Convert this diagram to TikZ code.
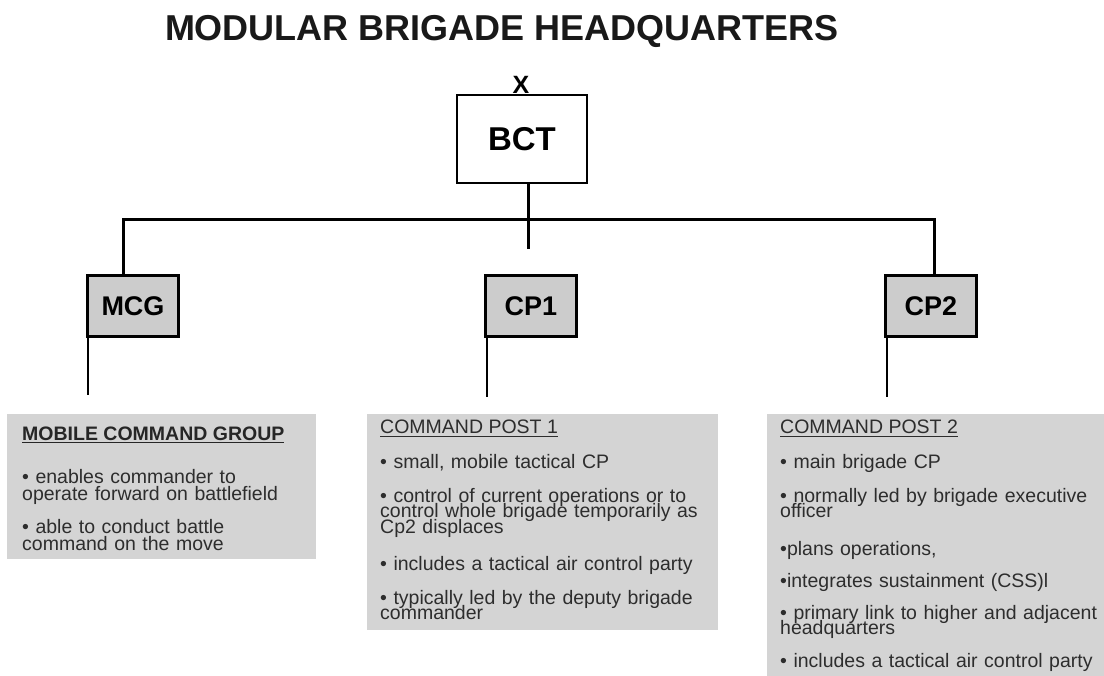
\documentclass[tikz,border=0pt]{standalone}
\usepackage{fontspec}
\setmainfont{Liberation Sans}
\definecolor{panelgray}{RGB}{212,212,212}
\definecolor{flaggray}{RGB}{204,204,204}
\definecolor{txtgray}{RGB}{45,45,45}
\newcommand\myul[1]{\setbox0=\hbox{#1}\rlap{\rule[-3.2pt]{\wd0}{1.4pt}}\box0}
\newcommand\tightlines{\lineskiplimit=-30pt\relax\lineskip=0pt\relax}
\begin{document}
\begin{tikzpicture}[x=1pt,y=-1pt,
  conn/.style={line width=3pt, line join=miter},
  pole/.style={line width=2.6pt},
  flagbox/.style={draw=black, line width=2.4pt, fill=flaggray, minimum width=91pt, minimum height=61pt, inner sep=0pt, font=\fontsize{27}{27}\selectfont\bfseries},
  topbox/.style={draw=black, line width=2.4pt, fill=white, minimum width=130pt, minimum height=88pt, inner sep=0pt, font=\fontsize{33}{33}\selectfont\bfseries},
  panel/.style={fill=panelgray, draw=none, anchor=north west, inner sep=0pt},
  head/.style={anchor=base west, inner sep=0pt, text=txtgray, font=\fontsize{19.5}{19.5}\selectfont},
  item/.style={anchor=base west, inner sep=0pt, text width=#1, align=left, text=txtgray, execute at begin node=\tightlines},
  item/.default=330pt,
  fsA/.style={font=\fontsize{19.5}{17.5}\selectfont},
  fsB/.style={font=\fontsize{19.5}{15.5}\selectfont},
  fsC/.style={font=\fontsize{19.5}{15}\selectfont}
]
\useasboundingbox (0,0) rectangle (1104,676);
\fill[white] (0,0) rectangle (1104,676);

% title
\node[anchor=base, inner sep=0pt, font=\fontsize{36}{36}\selectfont\bfseries, text=black!90] (title) at (502,41) {MODULAR BRIGADE HEADQUARTERS};

% top box
\node[topbox] (bct) at (522,139) {BCT};
\node[anchor=base, inner sep=0pt, font=\fontsize{25}{25}\selectfont\bfseries] (x) at (521,94) {X};

% flag boxes
\node[flagbox] (mcg) at (133,306) {MCG};
\node[flagbox] (cp1) at (531,306) {CP1};
\node[flagbox] (cp2) at (931,306) {CP2};

% connectors
\coordinate (jl) at (123,220);
\coordinate (jr) at (934,220);
\coordinate (jb) at (528,249);
\draw[conn] (mcg.north -| jl) -- (jl) -- (jr) -- (cp2.north -| jr);
\draw[conn] (bct.south -| jb) -- (jb);

% poles
\coordinate (mcgfoot) at (88,395);
\coordinate (cp1foot) at (487,397);
\coordinate (cp2foot) at (887,397);
\draw[pole] (mcg.south west -| mcgfoot) -- (mcgfoot);
\draw[pole] (cp1.south west -| cp1foot) -- (cp1foot);
\draw[pole] (cp2.south west -| cp2foot) -- (cp2foot);

% panels
\node[panel, minimum width=309pt, minimum height=145pt] (pmcg) at (7,414) {};
\node[panel, minimum width=351pt, minimum height=216pt] (pcp1) at (367,414) {};
\node[panel, minimum width=337pt, minimum height=262pt] (pcp2) at (767,414) {};

% MCG text
\node[head, text=black!85, font=\fontsize{19.5}{19.5}\selectfont\bfseries] (hmcg) at (22,440) {\myul{MOBILE COMMAND GROUP}};
\node[item, fsA] (m1) at (22,483) {• enables commander to\\operate forward on battlefield};
\node[item, fsA] (m2) at (22,533) {• able to conduct battle\\command on the move};

% CP1 text
\node[head] (hcp1) at (380,434) {\myul{COMMAND POST 1}};
\node[item, fsB] (a1) at (380,468) {• small, mobile tactical CP};
\node[item, fsB] (a2) at (380,502) {• control of current operations or to\\control whole brigade temporarily as\\Cp2 displaces};
\node[item, fsB] (a3) at (380,570) {• includes a tactical air control party};
\node[item, fsB] (a4) at (380,604) {• typically led by the deputy brigade\\commander};

% CP2 text
\node[head] (hcp2) at (780,434) {\myul{COMMAND POST 2}};
\node[item, fsC] (b1) at (780,468) {• main brigade CP};
\node[item, fsC] (b2) at (780,502) {• normally led by brigade executive\\officer};
\node[item, fsC] (b3) at (780,555) {•plans operations,};
\node[item, fsC] (b4) at (780,587) {•integrates sustainment (CSS)l};
\node[item, fsC] (b5) at (780,619) {• primary link to higher and adjacent\\headquarters};
\node[item, fsC] (b6) at (780,667) {• includes a tactical air control party};
\end{tikzpicture}
\end{document}
